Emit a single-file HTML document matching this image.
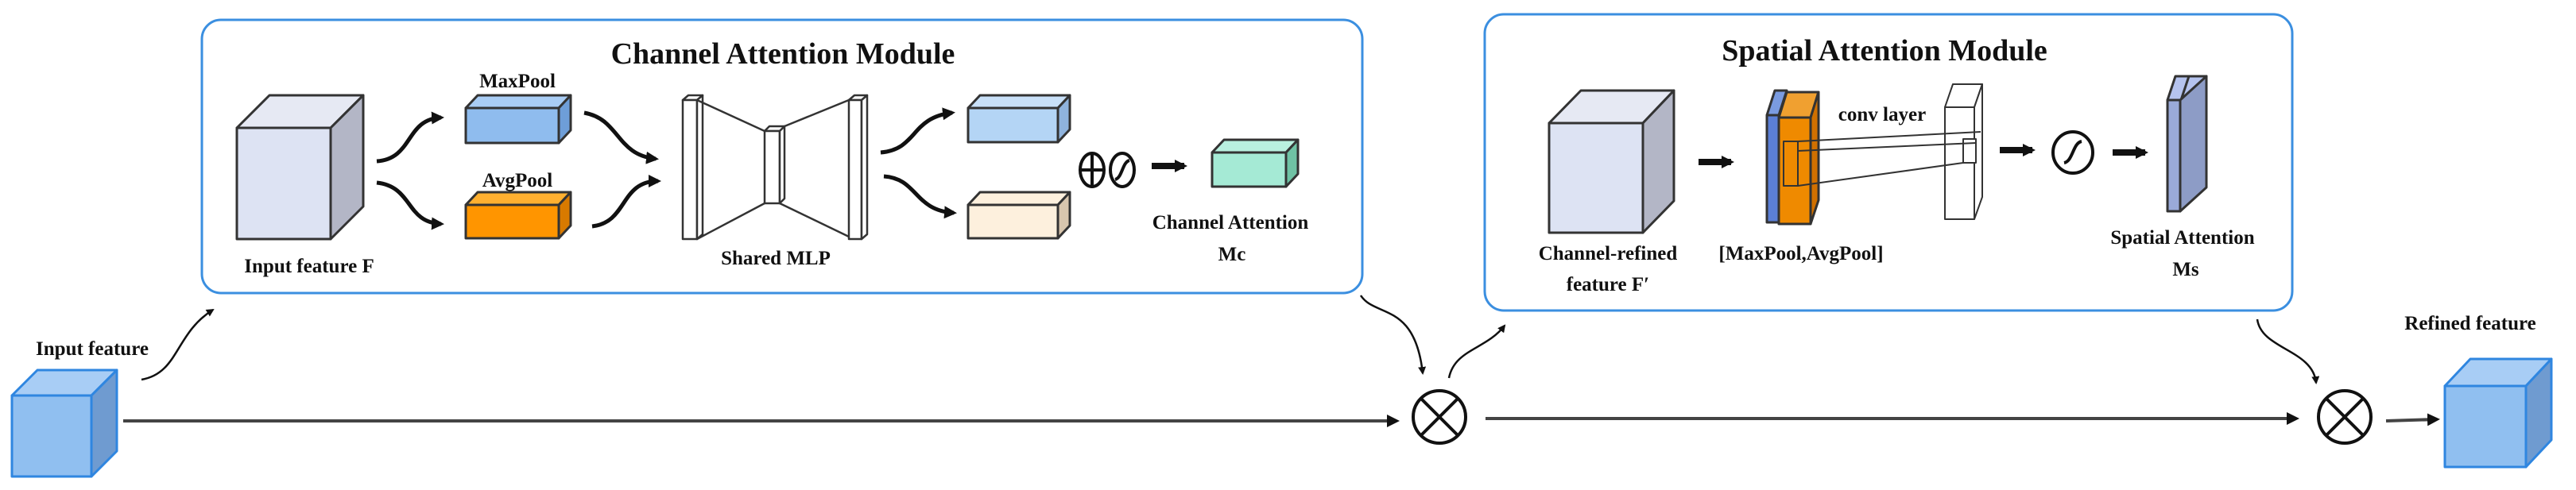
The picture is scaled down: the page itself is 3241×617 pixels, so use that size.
<!DOCTYPE html>
<html><head><meta charset="utf-8"><style>
html,body{margin:0;padding:0;background:#fff;}
svg{display:block;}
text{font-family:"Liberation Serif",serif;font-weight:bold;fill:#111;}
</style></head><body>
<svg width="3241" height="617" viewBox="0 0 3241 617" xmlns="http://www.w3.org/2000/svg">
<defs>
<marker id="ah" markerWidth="10" markerHeight="10" refX="8" refY="5" orient="auto" markerUnits="userSpaceOnUse"><path d="M0,0 L10,5 L0,10 Z" fill="#111"/></marker>
<marker id="ah2" markerWidth="16" markerHeight="16" refX="12" refY="8" orient="auto" markerUnits="userSpaceOnUse"><path d="M0,0 L16,8 L0,16 Z" fill="#111"/></marker>
</defs>
<g stroke="#333" stroke-width="3" stroke-linejoin="round">
<!-- boxes -->
<rect x="254" y="25" width="1460" height="344" rx="24" fill="none" stroke="#3b8fe0" stroke-width="3"/>
<rect x="1868" y="18" width="1016" height="373" rx="24" fill="none" stroke="#3b8fe0" stroke-width="3"/>
<!-- Input F cube -->
<polygon points="298,161 339,120 457,120 416,161" fill="#e6e9f3"/>
<polygon points="416,161 457,120 457,260 416,301" fill="#b3b6c6"/>
<rect x="298" y="161" width="118" height="140" fill="#dde3f3"/>
<!-- MaxPool -->
<polygon points="586,136 601,120 718,120 703,136" fill="#a9cdf5"/>
<polygon points="703,136 718,120 718,164 703,180" fill="#6e9ed8"/>
<rect x="586" y="136" width="117" height="44" fill="#8fbcee"/>
<!-- AvgPool -->
<polygon points="586,258 601,242 718,242 703,258" fill="#ffb030"/>
<polygon points="703,258 718,242 718,284 703,300" fill="#d87a00"/>
<rect x="586" y="258" width="117" height="42" fill="#ff9500"/>
<!-- Shared MLP -->
<g fill="#fff" stroke-width="2.5">
<polygon points="859,126 866,120 884,120 877,126"/><rect x="859" y="126" width="18" height="175"/><polygon points="877,126 884,120 884,295 877,301"/>
<polygon points="1068,126 1075,120 1091,120 1084,126"/><rect x="1068" y="126" width="16" height="175"/><polygon points="1084,126 1091,120 1091,295 1084,301"/>
<polygon points="962,165 968,159 987,159 981,165"/><rect x="962" y="165" width="19" height="91"/><polygon points="981,165 987,159 987,250 981,256"/>
<line x1="877" y1="126" x2="962" y2="165"/><line x1="987" y1="159" x2="1068" y2="126"/>
<line x1="877" y1="301" x2="962" y2="256"/><line x1="981" y1="256" x2="1068" y2="298"/>
</g>
<!-- output cubes -->
<polygon points="1218,136 1233,120 1346,120 1331,136" fill="#c8e0f8"/>
<polygon points="1331,136 1346,120 1346,163 1331,179" fill="#8fb3dd"/>
<rect x="1218" y="136" width="113" height="43" fill="#b4d5f5"/>
<polygon points="1218,258 1233,242 1346,242 1331,258" fill="#fdf0dd"/>
<polygon points="1331,258 1346,242 1346,284 1331,300" fill="#d8c6ae"/>
<rect x="1218" y="258" width="113" height="42" fill="#fdf0dd"/>
<!-- green -->
<polygon points="1525,192 1540,176 1633,176 1618,192" fill="#b9f0df"/>
<polygon points="1618,192 1633,176 1633,219 1618,235" fill="#6fc2a4"/>
<rect x="1525" y="192" width="93" height="43" fill="#a5ead5"/>
<!-- input cube -->
<polygon points="15,498 47,466 147,466 115,498" fill="#a8cdf5" stroke="#2f86e0"/>
<polygon points="115,498 147,466 147,568 115,600" fill="#6f9bd0" stroke="#2f86e0"/>
<rect x="15" y="498" width="100" height="102" fill="#90bff0" stroke="#2f86e0"/>
<!-- refined cube -->
<polygon points="3076,486 3108,452 3210,452 3178,486" fill="#a8cdf5" stroke="#2f86e0"/>
<polygon points="3178,486 3210,452 3210,554 3178,588" fill="#6f9bd0" stroke="#2f86e0"/>
<rect x="3076" y="486" width="102" height="102" fill="#90bff0" stroke="#2f86e0"/>
<!-- F' cube -->
<polygon points="1949,155 1989,114 2106,114 2067,155" fill="#e6e9f3"/>
<polygon points="2067,155 2106,114 2106,253 2067,293" fill="#b3b6c6"/>
<rect x="1949" y="155" width="118" height="138" fill="#dde3f3"/>
<!-- pool plates -->
<polygon points="2223,145 2233,114 2248,114 2238,145" fill="#7a9be0"/>
<rect x="2223" y="145" width="15" height="135" fill="#5b7fd6"/>
<polygon points="2238,148 2248,116 2288,116 2278,148" fill="#f0a030"/>
<polygon points="2278,148 2288,116 2288,252 2278,282" fill="#d07000"/>
<rect x="2238" y="148" width="40" height="134" fill="#ef8a00"/>
<rect x="2244" y="178" width="18" height="56" fill="none" stroke-width="2"/>
<!-- conv plate -->
<polygon points="2447,135 2457,106 2494,106 2484,135" fill="#fff" stroke-width="2"/>
<polygon points="2484,135 2494,106 2494,248 2484,276" fill="#fff" stroke-width="2"/>
<rect x="2447" y="135" width="37" height="141" fill="#fff" stroke-width="2"/>
<rect x="2470" y="175" width="16" height="30" fill="#fff" stroke-width="2"/>
<line x1="2262" y1="178" x2="2492" y2="166" stroke-width="2"/>
<line x1="2262" y1="190" x2="2486" y2="180" stroke-width="2"/>
<line x1="2262" y1="234" x2="2470" y2="205" stroke-width="2"/>
<!-- Ms plate -->
<polygon points="2727,126 2737,96 2776,96 2766,126" fill="#b5c3ee"/>
<polygon points="2744,126 2754,96 2776,96 2766,126" fill="#b5c3ee"/>
<rect x="2727" y="126" width="16" height="140" fill="#9aaad8"/>
<polygon points="2743,126 2776,96 2776,236 2743,266" fill="#8d9cc6"/>
</g>
<!-- curvy arrows -->
<g fill="none" stroke="#111" stroke-width="5">
<path d="M474,203 C520,200 510,150 555,148" marker-end="url(#ah2)"/>
<path d="M474,230 C520,235 510,280 555,282" marker-end="url(#ah2)"/>
<path d="M735,142 C780,150 775,195 825,200" marker-end="url(#ah2)"/>
<path d="M745,285 C790,280 780,228 828,228" marker-end="url(#ah2)"/>
<path d="M1108,192 C1155,188 1145,148 1198,142" marker-end="url(#ah2)"/>
<path d="M1112,222 C1155,225 1150,265 1200,268" marker-end="url(#ah2)"/>
</g>
<g fill="none" stroke="#111" stroke-width="2.5">
<path d="M178,478 C225,470 220,420 268,390" marker-end="url(#ah)"/>
<path d="M1712,372 C1730,400 1780,380 1790,470" marker-end="url(#ah)"/>
<path d="M1823,476 C1830,440 1870,440 1893,410" marker-end="url(#ah)"/>
<path d="M2840,402 C2845,440 2910,440 2914,482" marker-end="url(#ah)"/>
</g>
<!-- main lines -->
<g stroke="#444" stroke-width="4">
<line x1="155" y1="530" x2="1757" y2="530" marker-end="url(#ah2)"/>
<line x1="1869" y1="527" x2="2889" y2="527" marker-end="url(#ah2)"/>
<line x1="3002" y1="530" x2="3066" y2="528" marker-end="url(#ah2)"/>
</g>
<!-- block arrows -->
<g stroke="#111" stroke-width="8">
<line x1="1449" y1="209" x2="1490" y2="209" marker-end="url(#ah2)"/>
<line x1="2137" y1="204" x2="2178" y2="204" marker-end="url(#ah2)"/>
<line x1="2516" y1="189" x2="2557" y2="189" marker-end="url(#ah2)"/>
<line x1="2658" y1="192" x2="2699" y2="192" marker-end="url(#ah2)"/>
</g>
<!-- otimes -->
<g fill="none" stroke="#111" stroke-width="4">
<ellipse cx="1811" cy="525" rx="33" ry="33"/>
<line x1="1788" y1="502" x2="1834" y2="548"/><line x1="1834" y1="502" x2="1788" y2="548"/>
<ellipse cx="2950" cy="525" rx="33" ry="33"/>
<line x1="2927" y1="502" x2="2973" y2="548"/><line x1="2973" y1="502" x2="2927" y2="548"/>
<ellipse cx="1374" cy="214" rx="15" ry="21"/>
<line x1="1359" y1="214" x2="1389" y2="214"/><line x1="1374" y1="193" x2="1374" y2="235"/>
<ellipse cx="1412" cy="214" rx="15" ry="21"/>
<path d="M1403,226 C1412,224 1412,204 1421,202"/>
<ellipse cx="2608" cy="192" rx="25" ry="26"/>
<path d="M2597,205 C2608,203 2608,180 2619,178"/>
</g>
<!-- text -->
<text x="985" y="80" font-size="38" text-anchor="middle">Channel Attention Module</text>
<text x="2371" y="76" font-size="38" text-anchor="middle">Spatial Attention Module</text>
<text x="651" y="110" font-size="25" text-anchor="middle">MaxPool</text>
<text x="651" y="235" font-size="25" text-anchor="middle">AvgPool</text>
<text x="389" y="343" font-size="25" text-anchor="middle">Input feature F</text>
<text x="976" y="333" font-size="25" text-anchor="middle">Shared MLP</text>
<text x="1548" y="288" font-size="25" text-anchor="middle">Channel Attention</text>
<text x="1550" y="328" font-size="25" text-anchor="middle">Mc</text>
<text x="116" y="447" font-size="25" text-anchor="middle">Input feature</text>
<text x="2023" y="327" font-size="25" text-anchor="middle">Channel-refined</text>
<text x="2023" y="366" font-size="25" text-anchor="middle">feature F′</text>
<text x="2266" y="327" font-size="25" text-anchor="middle">[MaxPool,AvgPool]</text>
<text x="2368" y="152" font-size="25" text-anchor="middle">conv layer</text>
<text x="2746" y="307" font-size="25" text-anchor="middle">Spatial Attention</text>
<text x="2750" y="347" font-size="25" text-anchor="middle">Ms</text>
<text x="3108" y="415" font-size="25" text-anchor="middle">Refined feature</text>
</svg>
</body></html>
